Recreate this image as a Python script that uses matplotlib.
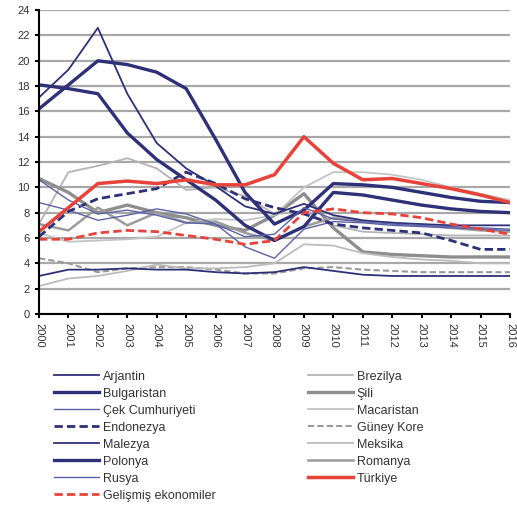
import matplotlib
matplotlib.use('Agg')
import matplotlib.pyplot as plt

plt.rcParams['font.family'] = ['Liberation Sans Narrow', 'Liberation Sans', 'DejaVu Sans']

years = list(range(2000, 2017))

# values
arjantin = [17.1, 19.3, 22.6, 17.4, 13.5, 11.5, 10.1, 8.5, 7.9, 8.7, 7.8, 7.4, 7.2, 7.1, 7.0, 7.0, 7.0]
bulgaristan = [18.1, 17.8, 17.4, 14.3, 12.2, 10.6, 9.0, 7.0, 5.8, 6.9, 9.6, 9.4, 9.0, 8.6, 8.3, 8.1, 8.0]
cek = [8.8, 8.2, 7.4, 7.8, 8.3, 7.9, 7.1, 5.3, 4.4, 6.7, 7.3, 7.2, 7.0, 6.9, 6.8, 6.7, 6.6]
endonezya = [6.1, 8.1, 9.1, 9.5, 9.9, 11.2, 10.3, 9.1, 8.4, 7.9, 7.1, 6.8, 6.6, 6.4, 5.8, 5.1, 5.1]
malezya = [3.0, 3.5, 3.5, 3.6, 3.5, 3.5, 3.3, 3.2, 3.3, 3.7, 3.4, 3.1, 3.0, 3.0, 3.0, 3.0, 3.0]
polonya = [16.2, 18.1, 20.0, 19.7, 19.1, 17.8, 13.8, 9.6, 7.1, 8.2, 10.3, 10.2, 10.0, 9.6, 9.2, 8.9, 8.8]
rusya = [10.6, 9.0, 7.9, 8.2, 7.8, 7.2, 7.1, 6.1, 6.3, 8.4, 7.5, 7.3, 7.1, 7.0, 6.9, 6.8, 6.7]
gelismis = [5.9, 5.9, 6.4, 6.6, 6.5, 6.2, 5.9, 5.5, 5.8, 8.0, 8.3, 8.0, 7.9, 7.6, 7.1, 6.7, 6.3]
brezilya = [7.1, 11.2, 11.7, 12.3, 11.5, 9.8, 10.0, 9.3, 7.9, 8.1, 7.0, 6.5, 6.4, 6.3, 6.2, 6.2, 6.2]
sili = [10.7, 9.6, 8.0, 8.6, 8.0, 7.6, 7.0, 6.6, 7.8, 9.5, 6.8, 4.9, 4.7, 4.6, 4.5, 4.5, 4.5]
macaristan = [6.4, 5.7, 5.8, 5.9, 6.1, 7.2, 7.5, 7.4, 7.8, 10.0, 11.2, 11.2, 11.0, 10.6, 10.0, 9.5, 9.0]
guney_kore = [4.4, 4.0, 3.3, 3.6, 3.7, 3.7, 3.5, 3.2, 3.2, 3.6, 3.7, 3.5, 3.4, 3.3, 3.3, 3.3, 3.3]
meksika = [2.2, 2.8, 3.0, 3.4, 3.9, 3.6, 3.6, 3.7, 4.0, 5.5, 5.4, 4.8, 4.5, 4.3, 4.2, 4.0, 4.0]
romanya = [7.1, 6.6, 8.4, 7.0, 8.0, 7.2, 7.3, 6.4, 5.8, 6.9, 7.6, 7.3, 7.2, 7.0, 6.8, 6.6, 6.5]
turkiye = [6.5, 8.4, 10.3, 10.5, 10.3, 10.6, 10.2, 10.2, 11.0, 14.0, 11.9, 10.6, 10.7, 10.3, 9.9, 9.4, 8.8]

navy = '#2e3178'
blue = '#5c62a8'
red = '#e8433a'

fig = plt.figure(figsize=(5.17, 5.08), dpi=100)
ax = fig.add_axes([0.0754, 0.382, 0.911, 0.598])

lines = {}
# grey lines first
lines['Brezilya'] = ax.plot(years, brezilya, color='#b4b4b4', lw=1.3)[0]
lines['Şili'] = ax.plot(years, sili, color='#8e8e8e', lw=2.4)[0]
lines['Macaristan'] = ax.plot(years, macaristan, color='#c4c4c4', lw=1.3)[0]
lines['Güney Kore'] = ax.plot(years, guney_kore, color='#9a9a9a', lw=1.5, ls=(0, (3, 1.5)))[0]
lines['Meksika'] = ax.plot(years, meksika, color='#bcbcbc', lw=1.3)[0]
lines['Romanya'] = ax.plot(years, romanya, color='#9c9c9c', lw=1.8)[0]
# blue lines
lines['Arjantin'] = ax.plot(years, arjantin, color=navy, lw=1.3)[0]
lines['Bulgaristan'] = ax.plot(years, bulgaristan, color=navy, lw=2.4)[0]
lines['Çek Cumhuriyeti'] = ax.plot(years, cek, color=blue, lw=1.0)[0]
lines['Endonezya'] = ax.plot(years, endonezya, color=navy, lw=2.0, ls=(0, (3, 1.5)))[0]
lines['Malezya'] = ax.plot(years, malezya, color=navy, lw=1.3)[0]
lines['Polonya'] = ax.plot(years, polonya, color=navy, lw=2.4)[0]
lines['Rusya'] = ax.plot(years, rusya, color=blue, lw=1.0)[0]
# red lines
lines['Gelişmiş ekonomiler'] = ax.plot(years, gelismis, color=red, lw=2.0, ls=(0, (3, 1.5)))[0]
lines['Türkiye'] = ax.plot(years, turkiye, color=red, lw=2.5)[0]

ax.set_xlim(2000, 2016)
ax.set_ylim(0, 24)
ax.set_yticks(range(0, 25, 2))
ax.set_xticks(years)
ax.set_xticklabels([str(y) for y in years], rotation=-90, fontsize=8, color='#333333')
ax.tick_params(axis='y', labelsize=8, labelcolor='#333333', length=3, width=1.5)
ax.tick_params(axis='x', length=3, width=1.5)
ax.grid(axis='y', color='#a8a8a8', lw=1.6)
ax.set_axisbelow(True)
for s in ['top', 'right']:
    ax.spines[s].set_visible(False)
for s in ['left', 'bottom']:
    ax.spines[s].set_linewidth(1.5)
    ax.spines[s].set_color('black')

order = ['Arjantin', 'Bulgaristan', 'Çek Cumhuriyeti', 'Endonezya', 'Malezya', 'Polonya',
         'Rusya', 'Gelişmiş ekonomiler', 'Brezilya', 'Şili', 'Macaristan', 'Güney Kore',
         'Meksika', 'Romanya', 'Türkiye']
leg = fig.legend([lines[k] for k in order], order, ncol=2, loc='upper left',
                 bbox_to_anchor=(0.095, 0.28), frameon=False, fontsize=9,
                 handlelength=3.6, handletextpad=0.3, columnspacing=7.4,
                 labelspacing=0.4, borderaxespad=0)
for t in leg.get_texts():
    t.set_color('#333333')

fig.savefig('out.png', dpi=100)
